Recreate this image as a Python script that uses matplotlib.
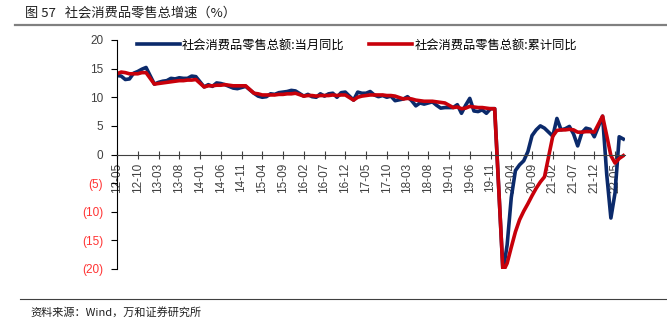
import numpy as np
import matplotlib
matplotlib.use("Agg")
import matplotlib.pyplot as plt

plt.rcParams['font.family'] = ['Liberation Sans', 'Noto Sans CJK SC', 'DejaVu Sans']

# month categories 2012-05 .. 2022-07
months = []
for y in range(2012, 2023):
    for m in range(1, 13):
        if (y == 2012 and m < 5) or (y == 2022 and m > 7):
            continue
        months.append(f"{y % 100:02d}-{m:02d}")

nan = np.nan
# 社会消费品零售总额:当月同比 (January not published)
monthly = [
    13.8, 13.7, 13.1, 13.2, 14.2, 14.5, 14.9, 15.2,
    nan, 12.3, 12.6, 12.8, 12.9, 13.3, 13.2, 13.4, 13.3, 13.3, 13.7, 13.6,
    nan, 11.8, 12.2, 11.9, 12.5, 12.4, 12.2, 11.9, 11.6, 11.5, 11.7, 11.9,
    nan, 10.7, 10.2, 10.0, 10.1, 10.6, 10.5, 10.8, 10.9, 11.0, 11.2, 11.1,
    nan, 10.2, 10.5, 10.1, 10.0, 10.6, 10.2, 10.6, 10.7, 10.0, 10.8, 10.9,
    nan, 9.5, 10.9, 10.7, 10.7, 11.0, 10.4, 10.1, 10.3, 10.0, 10.2, 9.4,
    nan, 9.7, 10.1, 9.4, 8.5, 9.0, 8.8, 9.0, 9.2, 8.6, 8.1, 8.2,
    nan, 8.2, 8.7, 7.2, 8.6, 9.8, 7.6, 7.5, 7.8, 7.2, 8.0, 8.0,
    nan, -20.5, -15.8, -7.5, -2.8, -1.8, -1.1, 0.5, 3.3, 4.3, 5.0, 4.6,
    nan, 3.2, 6.3, 4.3, 4.5, 4.9, 3.6, 1.5, 3.8, 4.6, 4.4, 3.1,
    nan, 6.7, -3.5, -11.1, -6.7, 3.1, 2.7,
]
# 社会消费品零售总额:累计同比
cumulative = [
    14.1, 14.4, 14.3, 14.1, 14.1, 14.1, 14.3, 14.3,
    nan, 12.3, 12.4, 12.5, 12.6, 12.7, 12.8, 12.9, 12.9, 13.0, 13.0, 13.1,
    nan, 11.8, 12.0, 12.0, 12.1, 12.1, 12.2, 12.1, 12.0, 12.0, 12.0, 12.0,
    nan, 10.7, 10.6, 10.4, 10.4, 10.4, 10.4, 10.5, 10.5, 10.6, 10.6, 10.7,
    nan, 10.2, 10.3, 10.3, 10.2, 10.3, 10.3, 10.3, 10.4, 10.3, 10.4, 10.4,
    nan, 9.5, 10.0, 10.2, 10.3, 10.4, 10.4, 10.4, 10.4, 10.3, 10.3, 10.2,
    nan, 9.7, 9.8, 9.7, 9.5, 9.4, 9.3, 9.3, 9.3, 9.2, 9.1, 9.0,
    nan, 8.2, 8.3, 8.0, 8.1, 8.4, 8.3, 8.2, 8.2, 8.1, 8.0, 8.0,
    nan, -20.5, -19.0, -16.2, -13.5, -11.4, -9.9, -8.6, -7.2, -5.9, -4.8, -3.9,
    nan, 3.2, 4.2, 4.3, 4.3, 4.4, 4.3, 3.9, 3.9, 4.0, 4.0, 3.9,
    nan, 6.7, 3.3, -0.2, -1.5, -0.7, -0.2,
]
yticks = [20, 15, 10, 5, 0, -5, -10, -15, -20]

blue = '#0B2A6B'
red = '#C8000A'

fig = plt.figure(figsize=(6.67, 3.26), dpi=100)
ax = fig.add_axes([117 / 667, 1 - 269 / 326, (625 - 117) / 667, 229 / 326])

# spine position first (it resets the tick objects)
for s in ['top', 'right']:
    ax.spines[s].set_visible(False)
ax.spines['bottom'].set_position(('data', 0))
ax.spines['bottom'].set_color('#404040')
ax.spines['left'].set_color('black')

x = np.arange(len(months))
m = np.array(monthly)
c = np.array(cumulative)
ok_m = ~np.isnan(m)
ok_c = ~np.isnan(c)
ax.plot(x[ok_m], m[ok_m], color=blue, lw=2.6, label='社会消费品零售总额:当月同比')
ax.plot(x[ok_c], c[ok_c], color=red, lw=2.6, label='社会消费品零售总额:累计同比')

ax.set_xlim(0, 122.4)
ax.set_ylim(-20, 20)

ax.set_yticks(yticks)
ax.set_yticklabels([str(v) if v >= 0 else f"({-v})" for v in yticks], fontsize=8.5)
for lab, v in zip(ax.get_yticklabels(), yticks):
    lab.set_color('#404040' if v >= 0 else '#FF3333')

ticks = x[::5]
ax.set_xticks(ticks)
ax.set_xticklabels([months[i] for i in ticks], fontsize=8.5, color='#404040')
ax.tick_params(axis='x', direction='inout', length=6, pad=3, color='#404040', labelrotation=90)
ax.tick_params(axis='y', direction='out', length=4, pad=6)

ax.legend(loc='center', bbox_to_anchor=(0.535, 1 - 45 / 326), bbox_transform=fig.transFigure,
          ncol=2, frameon=False, handlelength=3.5, handletextpad=0.2,
          columnspacing=2.0, prop={'family': ['Noto Sans CJK SC'], 'size': 8.8})

# header, footer
fig.text(25 / 667, 1 - 13 / 326, '图 57   社会消费品零售总增速（%）', fontsize=9.5,
         family=['Noto Sans CJK SC'], va='center', ha='left', color='#202020')
fig.add_artist(plt.Line2D([15 / 667, 1], [1 - 25 / 326] * 2, color='#808080', lw=1.6))
fig.add_artist(plt.Line2D([20 / 667, 1], [1 - 299 / 326] * 2, color='#404040', lw=0.8))
fig.text(30 / 667, 1 - 312 / 326, '资料来源：Wind，万和证券研究所', fontsize=8,
         family=['Noto Sans CJK SC'], va='center', ha='left', color='#202020')

plt.savefig('out.png', dpi=100)
